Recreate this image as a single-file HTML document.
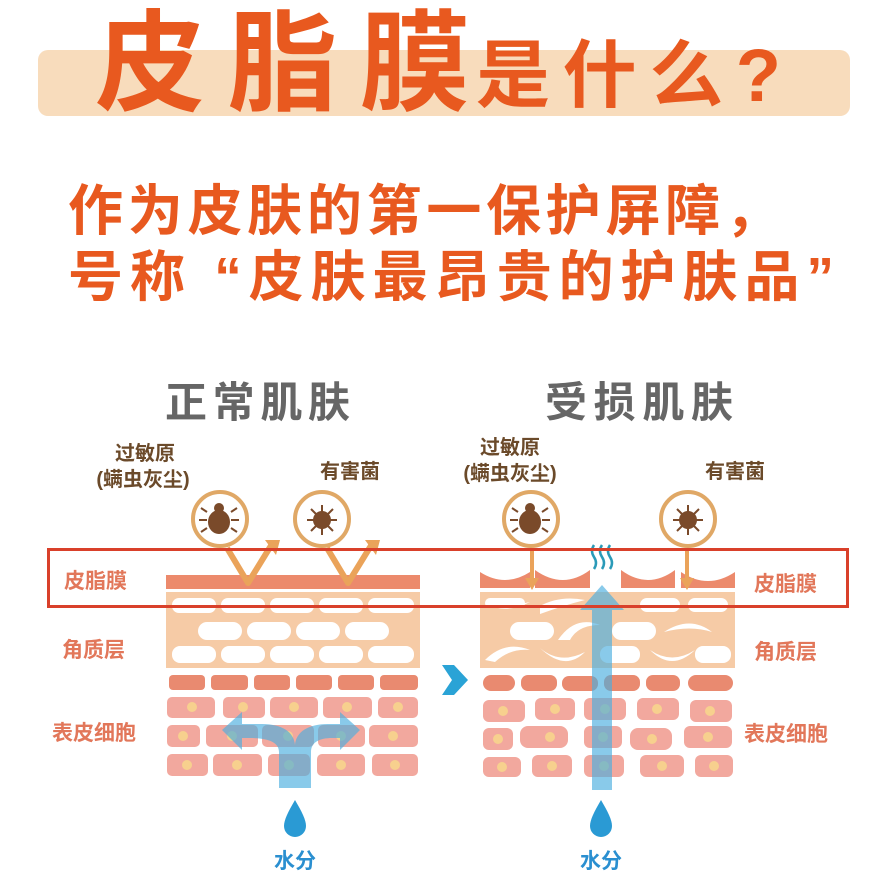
<!DOCTYPE html>
<html><head><meta charset="utf-8"><style>
html,body{margin:0;padding:0;background:#fff;}
svg{display:block;font-family:"Liberation Sans","Noto Sans CJK SC",sans-serif;}
</style></head><body>
<svg width="886" height="877" viewBox="0 0 886 877" xmlns="http://www.w3.org/2000/svg">
<rect x="38" y="50" width="812" height="66" rx="10" fill="#f8dcbc"/>
<text x="95" y="102" font-size="110" font-weight="bold" fill="#e8591f" textLength="375" lengthAdjust="spacing">皮脂膜</text>
<text x="476" y="101" font-size="74" font-weight="bold" fill="#e8591f" textLength="305" lengthAdjust="spacing">是什么?</text>
<text x="68" y="230" font-size="55" font-weight="bold" fill="#e8591f" textLength="712" lengthAdjust="spacing">作为皮肤的第一保护屏障，</text>
<text x="68" y="296" font-size="55" font-weight="bold" fill="#e8591f" textLength="766" lengthAdjust="spacing">号称 “皮肤最昂贵的护肤品”</text>

<text x="165" y="417" font-size="42" font-weight="bold" fill="#666" textLength="185" lengthAdjust="spacing">正常肌肤</text>
<text x="545" y="417" font-size="42" font-weight="bold" fill="#666" textLength="188" lengthAdjust="spacing">受损肌肤</text>

<g font-size="20" font-weight="bold" fill="#6b4a2a" text-anchor="middle">
<text x="145" y="460">过敏原</text><text x="143" y="486">(螨虫灰尘)</text>
<text x="350" y="478">有害菌</text>
<text x="510" y="454">过敏原</text><text x="510" y="480">(螨虫灰尘)</text>
<text x="735" y="478">有害菌</text>
</g>

<!-- icons -->
<g fill="#fff" stroke="#e0a866" stroke-width="4">
<circle cx="220" cy="519" r="27"/><circle cx="322" cy="519" r="27"/>
<circle cx="531" cy="519" r="27"/><circle cx="688" cy="519" r="27"/>
</g>
<g fill="#7a4a2a">
<ellipse cx="219" cy="522" rx="11" ry="12"/><circle cx="219" cy="508" r="5"/>
<ellipse cx="530" cy="522" rx="11" ry="12"/><circle cx="530" cy="508" r="5"/>
<circle cx="322" cy="520" r="9"/><circle cx="688" cy="520" r="9"/>
</g>
<g stroke="#7a4a2a" stroke-width="2">
<path d="M207 512l-6-4M207 520h-8M207 528l-6 4M231 512l6-4M231 520h8M231 528l6 4"/>
<path d="M518 512l-6-4M518 520h-8M518 528l-6 4M542 512l6-4M542 520h8M542 528l6 4"/>
<path d="M322 505v30M307 520h30M311 509l22 22M333 509l-22 22"/>
<path d="M688 505v30M673 520h30M677 509l22 22M699 509l-22 22"/>
</g>

<!-- left skin -->
<rect x="166" y="575" width="254" height="14" fill="#ec8a6c"/>
<rect x="166" y="592" width="254" height="76" fill="#f6cba6"/>
<g fill="#fff">
<rect x="172" y="598" width="44" height="15" rx="7"/><rect x="221" y="598" width="44" height="15" rx="7"/><rect x="270" y="598" width="44" height="15" rx="7"/><rect x="319" y="598" width="44" height="15" rx="7"/><rect x="368" y="598" width="46" height="15" rx="7"/>
<rect x="198" y="622" width="44" height="18" rx="9"/><rect x="247" y="622" width="44" height="18" rx="9"/><rect x="296" y="622" width="44" height="18" rx="9"/><rect x="345" y="622" width="44" height="18" rx="9"/>
<rect x="172" y="646" width="44" height="17" rx="8"/><rect x="221" y="646" width="44" height="17" rx="8"/><rect x="270" y="646" width="44" height="17" rx="8"/><rect x="319" y="646" width="44" height="17" rx="8"/><rect x="368" y="646" width="46" height="17" rx="8"/>
</g>
<g fill="#e98a70">
<rect x="169" y="675" width="36" height="15" rx="4"/><rect x="211" y="675" width="37" height="15" rx="4"/><rect x="254" y="675" width="36" height="15" rx="4"/><rect x="296" y="675" width="36" height="15" rx="4"/><rect x="338" y="675" width="36" height="15" rx="4"/><rect x="380" y="675" width="38" height="15" rx="4"/>
</g>
<g fill="#f2a89e">
<rect x="167" y="697" width="48" height="21" rx="5"/><rect x="223" y="697" width="42" height="21" rx="5"/><rect x="270" y="697" width="48" height="21" rx="5"/><rect x="323" y="697" width="49" height="21" rx="5"/><rect x="378" y="697" width="40" height="21" rx="5"/>
<rect x="167" y="725" width="33" height="22" rx="5"/><rect x="206" y="725" width="52" height="22" rx="5"/><rect x="262" y="725" width="52" height="22" rx="5"/><rect x="318" y="725" width="47" height="22" rx="5"/><rect x="369" y="725" width="49" height="22" rx="5"/>
<rect x="167" y="754" width="41" height="22" rx="5"/><rect x="213" y="754" width="49" height="22" rx="5"/><rect x="268" y="754" width="42" height="22" rx="5"/><rect x="317" y="754" width="48" height="22" rx="5"/><rect x="372" y="754" width="46" height="22" rx="5"/>
</g>
<g fill="#f7d08e">
<circle cx="192" cy="707" r="5"/><circle cx="243" cy="707" r="5"/><circle cx="294" cy="707" r="5"/><circle cx="347" cy="707" r="5"/><circle cx="398" cy="707" r="5"/>
<circle cx="183" cy="736" r="5"/><circle cx="232" cy="736" r="5"/><circle cx="288" cy="736" r="5"/><circle cx="341" cy="736" r="5"/><circle cx="393" cy="736" r="5"/>
<circle cx="187" cy="765" r="5"/><circle cx="237" cy="765" r="5"/><circle cx="289" cy="765" r="5"/><circle cx="341" cy="765" r="5"/><circle cx="395" cy="765" r="5"/>
</g>
<g fill="none" stroke="#eaa35a" stroke-width="6" stroke-linejoin="round">
<path d="M227 548 L248 583 L272 544"/><path d="M327 548 L348 583 L372 544"/>
</g>
<path d="M265 540 L280 540 L276 555Z" fill="#eaa35a"/><path d="M365 540 L380 540 L376 555Z" fill="#eaa35a"/>
<g fill="#4aaedf" opacity="0.65">
<path d="M279 788 V752 C279 742 268 738 250 738 H242 V750 L222 730 L242 712 V724 H262 C282 724 294 732 295 745 C296 732 308 724 328 724 H340 V712 L360 730 L340 750 V738 H332 C320 738 311 742 311 752 V788Z"/>
</g>
<path d="M295 800 C288 812 284 820 284 826 A11 11 0 0 0 306 826 C306 820 302 812 295 800Z" fill="#2a9ad4"/>
<text x="295" y="868" font-size="21" font-weight="bold" fill="#2a8fd0" text-anchor="middle">水分</text>

<path d="M442 665 L454 665 L468 680 L454 695 L442 695 L452 680Z" fill="#2aa3d6"/>

<!-- right skin -->
<g fill="#ec8a6c">
<path d="M480 572 Q505 588 530 572 V588 H480Z"/><path d="M535 570 Q563 590 590 570 V588 H535Z"/>
<path d="M621 570 Q648 590 675 570 V588 H621Z"/><path d="M681 572 Q708 590 735 572 V588 H681Z"/>
</g>
<rect x="480" y="592" width="255" height="76" fill="#f6cba6"/>
<g fill="#fff">
<path d="M485 603 Q505 615 530 602 Q505 608 485 603Z"/><rect x="485" y="598" width="40" height="10" rx="5"/>
<path d="M540 606 Q560 595 585 600 Q565 605 540 614Z"/><rect x="640" y="598" width="40" height="14" rx="7"/><rect x="688" y="598" width="40" height="14" rx="7"/>
<rect x="510" y="622" width="44" height="18" rx="9"/><path d="M558 640 Q575 615 600 625 Q578 625 570 640Z"/><rect x="612" y="622" width="44" height="18" rx="9"/><path d="M664 632 Q690 615 712 632 Q690 625 664 632Z"/>
<path d="M485 660 Q505 640 530 650 Q510 648 495 662Z"/><path d="M540 648 Q560 665 585 652 Q565 672 540 648Z"/><rect x="600" y="646" width="40" height="17" rx="8"/><path d="M650 650 Q672 665 695 650 Q672 672 650 650Z"/><rect x="695" y="646" width="36" height="17" rx="8"/>
</g>
<g fill="#e98a70">
<rect x="483" y="675" width="32" height="16" rx="8"/><rect x="521" y="675" width="36" height="16" rx="7"/><rect x="562" y="676" width="36" height="15" rx="7"/><rect x="604" y="675" width="36" height="16" rx="7"/><rect x="646" y="675" width="34" height="16" rx="7"/><rect x="688" y="675" width="45" height="16" rx="8"/>
</g>
<g fill="#f2a89e">
<rect x="483" y="700" width="42" height="22" rx="6"/><rect x="535" y="698" width="40" height="22" rx="6"/><rect x="584" y="698" width="42" height="22" rx="6"/><rect x="637" y="698" width="42" height="22" rx="6"/><rect x="690" y="700" width="42" height="22" rx="6"/>
<rect x="483" y="728" width="30" height="22" rx="6"/><rect x="520" y="726" width="48" height="22" rx="8"/><rect x="584" y="726" width="38" height="22" rx="6"/><rect x="630" y="728" width="42" height="22" rx="8"/><rect x="684" y="726" width="48" height="22" rx="6"/>
<rect x="483" y="757" width="38" height="20" rx="6"/><rect x="532" y="755" width="40" height="22" rx="6"/><rect x="584" y="755" width="40" height="22" rx="6"/><rect x="640" y="755" width="44" height="22" rx="6"/><rect x="695" y="755" width="38" height="22" rx="6"/>
</g>
<g fill="#f7d08e">
<circle cx="503" cy="711" r="5"/><circle cx="555" cy="709" r="5"/><circle cx="605" cy="709" r="5"/><circle cx="657" cy="709" r="5"/><circle cx="710" cy="711" r="5"/>
<circle cx="498" cy="739" r="5"/><circle cx="550" cy="737" r="5"/><circle cx="603" cy="737" r="5"/><circle cx="652" cy="739" r="5"/><circle cx="708" cy="737" r="5"/>
<circle cx="502" cy="767" r="5"/><circle cx="552" cy="766" r="5"/><circle cx="604" cy="766" r="5"/><circle cx="662" cy="766" r="5"/><circle cx="714" cy="766" r="5"/>
</g>
<g stroke="#eaa35a" stroke-width="4"><path d="M532 548 V580"/><path d="M687 548 V580"/></g>
<path d="M525 578 H539 L532 590Z M680 578 H694 L687 590Z" fill="#eaa35a"/>
<g fill="#4aaedf" opacity="0.65"><path d="M592 790 V610 H580 L602 585 L624 610 H612 V790Z"/></g>
<g fill="none" stroke="#2a9ab8" stroke-width="2.5">
<path d="M594 545 q-4 6 0 12 q4 6 0 12"/><path d="M602 545 q-4 6 0 12 q4 6 0 12"/><path d="M610 545 q-4 6 0 12 q4 6 0 12"/>
</g>
<path d="M601 800 C594 812 590 820 590 826 A11 11 0 0 0 612 826 C612 820 608 812 601 800Z" fill="#2a9ad4"/>
<text x="601" y="868" font-size="21" font-weight="bold" fill="#2a8fd0" text-anchor="middle">水分</text>

<g font-size="21" font-weight="bold" fill="#e2775a">
<text x="64" y="588">皮脂膜</text><text x="62" y="657">角质层</text><text x="52" y="740">表皮细胞</text>
<text x="754" y="591">皮脂膜</text><text x="754" y="659">角质层</text><text x="744" y="741">表皮细胞</text>
</g>
<rect x="48.5" y="549.5" width="799" height="57" fill="none" stroke="#d9402a" stroke-width="3"/>
</svg>
</body></html>
